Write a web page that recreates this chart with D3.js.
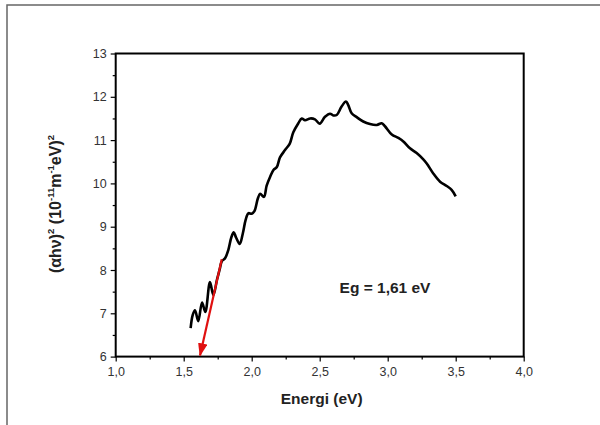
<!DOCTYPE html>
<html><head><meta charset="utf-8">
<script src="https://cdn.jsdelivr.net/npm/d3@7"></script>
<style>body{margin:0;background:#fff}svg{display:block}text{font-family:"Liberation Sans",Arial,sans-serif}</style>
</head><body><svg id="c" width="600" height="425"></svg>
<script>
const energy = [1.551,1.566,1.583,1.607,1.635,1.659,1.693,1.718,1.745,1.765,1.780,1.804,1.828,1.850,1.868,1.885,1.912,1.935,1.955,1.975,2.000,2.020,2.045,2.062,2.090,2.110,2.135,2.160,2.185,2.208,2.245,2.280,2.306,2.343,2.368,2.392,2.430,2.465,2.500,2.539,2.576,2.600,2.625,2.660,2.693,2.710,2.735,2.772,2.820,2.870,2.920,2.956,2.980,3.030,3.078,3.115,3.164,3.213,3.260,3.287,3.335,3.385,3.434,3.470,3.500];
const ahv2 = [6.66,6.96,7.07,6.82,7.25,7.03,7.72,7.42,7.78,8.02,8.20,8.27,8.46,8.75,8.87,8.75,8.60,8.85,9.15,9.31,9.30,9.36,9.65,9.76,9.69,9.95,10.15,10.31,10.38,10.60,10.77,10.92,11.18,11.39,11.50,11.46,11.50,11.48,11.38,11.54,11.61,11.57,11.58,11.77,11.89,11.81,11.62,11.53,11.43,11.37,11.35,11.39,11.32,11.13,11.05,10.97,10.81,10.70,10.56,10.46,10.23,10.04,9.94,9.85,9.70];
const fitLine = [[1.78, 8.25], [1.62, 6.0]];
const xTicks = [1.0,1.5,2.0,2.5,3.0,3.5,4.0];
const yTicks = [6,7,8,9,10,11,12,13];
const xMinor = [1.25,1.75,2.25,2.75,3.25,3.75];
const yMinor = [6.5,7.5,8.5,9.5,10.5,11.5,12.5];

const svg = d3.select("#c");
svg.append("rect").attr("x",7).attr("y",5).attr("width",620).attr("height",440)
  .attr("fill","none").attr("stroke","#666").attr("stroke-width",1.5);

const x = d3.scaleLinear().domain([1,4]).range([115.7,523.7]);
const y = d3.scaleLinear().domain([6,13]).range([356.6,53.5]);

const fmt = d => d3.format(".1f")(d).replace(".", ",");
const gx = svg.append("g").attr("transform",`translate(0,${y(6)})`)
  .call(d3.axisBottom(x).tickValues(xTicks).tickFormat(fmt).tickSize(5).tickSizeOuter(0));
svg.append("g").attr("transform",`translate(0,${y(6)})`)
  .call(d3.axisBottom(x).tickValues(xMinor).tickFormat("").tickSize(3).tickSizeOuter(0))
  .select(".domain").remove();
const gy = svg.append("g").attr("transform",`translate(${x(1)},0)`)
  .call(d3.axisLeft(y).tickValues(yTicks).tickFormat(d3.format("d")).tickSize(5).tickSizeOuter(0));
svg.append("g").attr("transform",`translate(${x(1)},0)`)
  .call(d3.axisLeft(y).tickValues(yMinor).tickFormat("").tickSize(3).tickSizeOuter(0))
  .select(".domain").remove();
svg.selectAll(".tick line").attr("stroke","#000").attr("stroke-width",1.2);
[gx,gy].forEach(g=>g.select(".domain").remove());
gx.selectAll("text").attr("font-size",12.5).attr("fill","#333").attr("dy","0.9em");
gy.selectAll("text").attr("font-size",12.5).attr("fill","#333").attr("dx","-1");

svg.append("rect").attr("x",x(1)).attr("y",y(13)).attr("width",x(4)-x(1)).attr("height",y(6)-y(13))
  .attr("fill","none").attr("stroke","#000").attr("stroke-width",2);

const line = d3.line().x((d,i)=>x(energy[i])).y((d,i)=>y(ahv2[i])).curve(d3.curveCatmullRom.alpha(0.5));
svg.append("path").datum(energy).attr("d",line).attr("fill","none")
  .attr("stroke","#000").attr("stroke-width",2.6).attr("stroke-linejoin","round");

svg.append("defs").append("marker").attr("id","ah").attr("viewBox","0 0 14 10")
  .attr("refX",13).attr("refY",5).attr("markerWidth",6).attr("markerHeight",4.5).attr("orient","auto")
  .attr("markerUnits","strokeWidth")
  .append("path").attr("d","M0,0L14,5L0,10Z").attr("fill","#e01010");
svg.append("line").attr("x1",x(fitLine[0][0])).attr("y1",y(fitLine[0][1]))
  .attr("x2",x(fitLine[1][0])).attr("y2",y(fitLine[1][1])-1)
  .attr("stroke","#e01010").attr("stroke-width",2.2).attr("marker-end","url(#ah)");

svg.append("text").attr("x",x(2.5)+2).attr("y",404).attr("text-anchor","middle")
  .attr("font-size",15.5).attr("font-weight","bold").attr("fill","#222").text("Energi (eV)");

const yl = svg.append("text").attr("transform","translate(61,204) rotate(-90)").attr("text-anchor","middle")
  .attr("font-size",16).attr("font-weight","bold").attr("fill","#222");
yl.append("tspan").text("(\u03B1h\u03BD)");
yl.append("tspan").attr("font-size",9.5).attr("dy",-7).text("2");
yl.append("tspan").attr("dy",7).text(" (10");
yl.append("tspan").attr("font-size",9.5).attr("dy",-7).text("-11");
yl.append("tspan").attr("dy",7).text("m");
yl.append("tspan").attr("font-size",9.5).attr("dy",-7).text("-1");
yl.append("tspan").attr("dy",7).text("eV)");
yl.append("tspan").attr("font-size",9.5).attr("dy",-7).text("2");

svg.append("text").attr("x",385).attr("y",293).attr("text-anchor","middle")
  .attr("font-size",15.5).attr("font-weight","bold").attr("fill","#222").text("Eg = 1,61 eV");
</script></body></html>
